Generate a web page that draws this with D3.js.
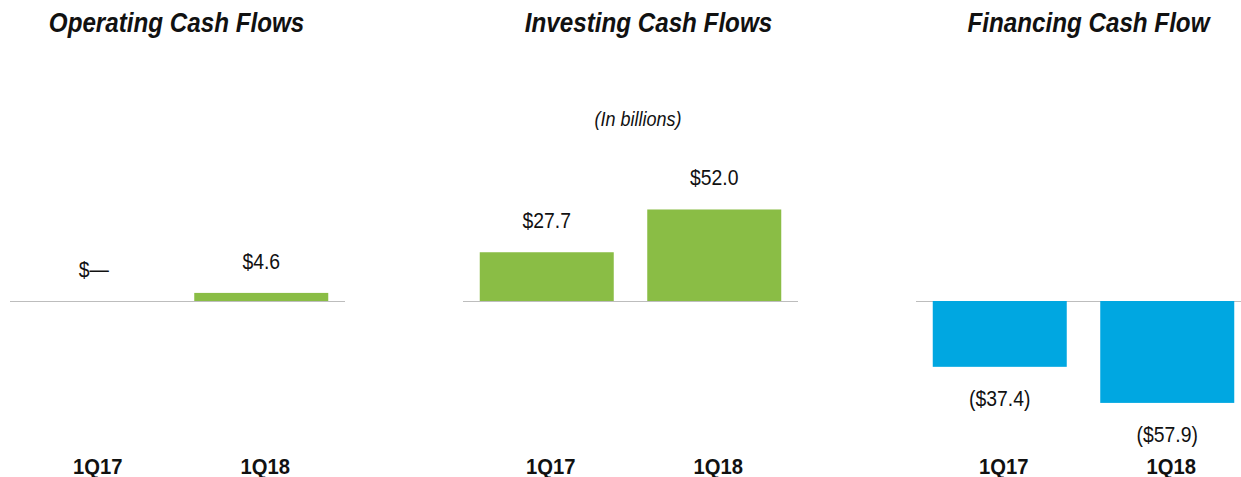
<!DOCTYPE html>
<html>
<head>
<meta charset="utf-8">
<script src="https://cdn.jsdelivr.net/npm/d3@7"></script>
<style>
  html, body { margin: 0; padding: 0; background: #fff; }
  svg { display: block; }
  text { font-family: "Liberation Sans", Arial, sans-serif; fill: #111; }
</style>
</head>
<body>
<svg id="chart" width="1241" height="477"></svg>
<script>
// Quarterly cash flow summary, in billions of dollars
const panelTitles = ["Operating Cash Flows", "Investing Cash Flows", "Financing Cash Flow"];
const quarters = ["1Q17", "1Q18"];
const operatingValues = [0, 4.6];
const investingValues = [27.7, 52.0];
const financingValues = [-37.4, -57.9];
const valueLabels = [["$\u2014", "$4.6"], ["$27.7", "$52.0"], ["($37.4)", "($57.9)"]];
const unitNote = "(In billions)";

const panels = [operatingValues, investingValues, financingValues].map((vals, i) => ({
  title: panelTitles[i],
  values: vals,
  labels: valueLabels[i]
}));

const svg = d3.select("#chart");
const W = 1241;

const baseY = 301;
const pxPerUnit = 1.76;
const y = d3.scaleLinear()
  .domain([-60, 60])
  .range([baseY + 60 * pxPerUnit, baseY - 60 * pxPerUnit]);

const panelX = d3.scaleBand()
  .domain(d3.range(panels.length))
  .range([10, 10 + 453 * 3])
  .paddingInner(0);

const titleOffsets = [-1, 18, 5];
const greenBar = "#8abd45";
const blueBar = "#00a7e1";

// condensed-looking text: horizontally squeezed Liberation Sans
function condensedText(parent, x, yPos, str, opts) {
  const g = parent.append("g")
    .attr("transform", `translate(${x},${yPos}) scale(${opts.sx},1)`);
  const t = g.append("text")
    .attr("text-anchor", "middle")
    .attr("font-size", opts.size)
    .text(str);
  if (opts.bold) t.attr("font-weight", "bold");
  if (opts.italic) t.attr("font-style", "italic");
  return g;
}

panels.forEach((p, i) => {
  const x0 = panelX(i);
  const g = svg.append("g").attr("transform", `translate(${x0},0)`);
  const x = d3.scaleBand()
    .domain(quarters)
    .range([0, 335])
    .paddingInner(0.2)
    .paddingOuter(0.1);

  // zero line
  g.append("line")
    .attr("x1", 0).attr("x2", Math.min(335, W - x0))
    .attr("y1", y(0) + 0.5).attr("y2", y(0) + 0.5)
    .attr("stroke", "#bdbdbd").attr("stroke-width", 1);

  // bars
  g.selectAll("rect.bar")
    .data(p.values)
    .join("rect")
    .attr("class", "bar")
    .attr("x", (d, j) => x(quarters[j]))
    .attr("width", x.bandwidth())
    .attr("y", d => Math.min(y(d), y(0)))
    .attr("height", d => Math.abs(y(d) - y(0)))
    .attr("fill", d => d < 0 ? blueBar : greenBar);

  // value labels
  p.values.forEach((d, j) => {
    condensedText(g, x(quarters[j]) + x.bandwidth() / 2,
      d < 0 ? y(d) + 39 : y(d) - 24, p.labels[j], { size: 22, sx: 0.88 });
  });

  // quarter labels
  quarters.forEach(q => {
    condensedText(g, x(q) + x.bandwidth() / 2 + 4, 474, q, { size: 22, sx: 0.92, bold: true });
  });

  // panel title
  condensedText(g, 167.5 + titleOffsets[i], 32, p.title, { size: 27.5, sx: 0.88, bold: true, italic: true });
});

condensedText(svg, 638, 126, unitNote, { size: 20, sx: 0.9, italic: true });
</script>
</body>
</html>
